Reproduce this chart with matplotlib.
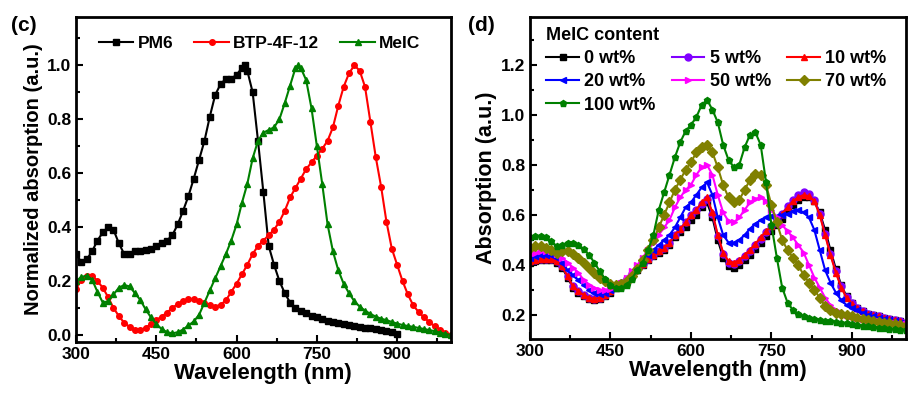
import matplotlib
matplotlib.use("Agg")
import matplotlib.pyplot as plt
from matplotlib.ticker import MultipleLocator, FormatStrFormatter

plt.rcParams["font.family"] = ["Liberation Sans", "DejaVu Sans"]
plt.rcParams["font.weight"] = "bold"

# ---- panel (c): normalized absorption of neat films ----
pm6_wl = [300, 310, 320, 330, 340, 350, 360, 370, 380, 390, 400, 410, 420, 430, 440,
          450, 460, 470, 480, 490, 500, 510, 520, 530, 540, 550, 560, 570, 580, 590,
          600, 610, 615, 620, 630, 640, 650, 660, 670, 680, 690, 700, 710, 720, 730,
          740, 750, 760, 770, 780, 790, 800, 810, 820, 830, 840, 850, 860, 870, 880,
          890, 900]
pm6_abs = [0.30, 0.27, 0.28, 0.31, 0.35, 0.38, 0.40, 0.39, 0.34, 0.30, 0.30, 0.31, 0.31,
           0.315, 0.32, 0.33, 0.34, 0.35, 0.37, 0.41, 0.46, 0.515, 0.58, 0.65, 0.72, 0.81,
           0.89, 0.93, 0.95, 0.95, 0.965, 0.99, 1.0, 0.98, 0.90, 0.72, 0.53, 0.33, 0.26,
           0.20, 0.155, 0.12, 0.10, 0.09, 0.08, 0.07, 0.065, 0.058, 0.052, 0.047, 0.043,
           0.04, 0.037, 0.034, 0.03, 0.027, 0.025, 0.022, 0.018, 0.015, 0.01, 0.005]

wl10 = list(range(300, 1001, 10))

btp_abs = [0.17, 0.205, 0.22, 0.22, 0.20, 0.175, 0.14, 0.10, 0.07, 0.045, 0.03, 0.02, 0.018,
           0.027, 0.04, 0.055, 0.068, 0.083, 0.10, 0.115, 0.125, 0.132, 0.132, 0.127, 0.12,
           0.11, 0.105, 0.112, 0.128, 0.16, 0.19, 0.225, 0.26, 0.30, 0.33, 0.35, 0.37, 0.39,
           0.42, 0.46, 0.51, 0.545, 0.58, 0.615, 0.64, 0.665, 0.69, 0.72, 0.77, 0.85, 0.92,
           0.97, 1.0, 0.98, 0.92, 0.79, 0.66, 0.55, 0.42, 0.32, 0.26, 0.20, 0.15, 0.11,
           0.085, 0.065, 0.048, 0.032, 0.02, 0.008, 0.0]

meic_wl = wl10[:42] + [715] + wl10[42:]
meic_abs = [0.20, 0.215, 0.22, 0.205, 0.16, 0.12, 0.125, 0.15, 0.175, 0.185, 0.18, 0.155,
            0.13, 0.095, 0.065, 0.04, 0.022, 0.01, 0.006, 0.01, 0.02, 0.035, 0.05, 0.075,
            0.12, 0.165, 0.21, 0.255, 0.30, 0.35, 0.41, 0.49, 0.56, 0.655, 0.72, 0.75, 0.76,
            0.77, 0.80, 0.86, 0.925, 0.99, 1.0, 0.99, 0.945, 0.84, 0.70, 0.56, 0.41, 0.31,
            0.24, 0.19, 0.155, 0.125, 0.105, 0.09, 0.078, 0.068, 0.06, 0.055, 0.048, 0.042,
            0.037, 0.033, 0.03, 0.026, 0.022, 0.018, 0.014, 0.009, 0.004, 0.0]

# ---- panel (d): blend films with different MeIC content ----
blend_labels = ["0 wt%", "5 wt%", "10 wt%", "20 wt%", "50 wt%", "70 wt%", "100 wt%"]
blend_abs = [
    # 0 wt%
    [0.41, 0.415, 0.42, 0.42, 0.42, 0.41, 0.39, 0.35, 0.31, 0.29, 0.275, 0.265, 0.26, 0.265,
     0.275, 0.29, 0.31, 0.325, 0.34, 0.36, 0.38, 0.40, 0.42, 0.435, 0.45, 0.46, 0.48, 0.51,
     0.53, 0.55, 0.58, 0.60, 0.63, 0.65, 0.59, 0.50, 0.43, 0.395, 0.39, 0.40, 0.42, 0.44,
     0.465, 0.49, 0.515, 0.535, 0.56, 0.585, 0.615, 0.64, 0.66, 0.67, 0.67, 0.655, 0.61,
     0.54, 0.46, 0.385, 0.32, 0.275, 0.25, 0.23, 0.215, 0.205, 0.20, 0.195, 0.19, 0.185,
     0.18, 0.175, 0.17],
    # 5 wt%
    [0.415, 0.42, 0.425, 0.425, 0.425, 0.415, 0.395, 0.355, 0.315, 0.295, 0.28, 0.27, 0.265,
     0.27, 0.28, 0.295, 0.315, 0.33, 0.345, 0.365, 0.385, 0.405, 0.425, 0.44, 0.455, 0.47,
     0.49, 0.52, 0.545, 0.57, 0.60, 0.62, 0.645, 0.665, 0.605, 0.515, 0.445, 0.41, 0.405,
     0.415, 0.435, 0.455, 0.48, 0.505, 0.53, 0.555, 0.58, 0.605, 0.635, 0.66, 0.68, 0.69,
     0.685, 0.66, 0.605, 0.525, 0.445, 0.375, 0.315, 0.272, 0.248, 0.23, 0.215, 0.205,
     0.20, 0.195, 0.19, 0.185, 0.18, 0.175, 0.17],
    # 10 wt%
    [0.415, 0.42, 0.425, 0.425, 0.425, 0.415, 0.395, 0.355, 0.315, 0.295, 0.28, 0.27, 0.265,
     0.27, 0.28, 0.295, 0.315, 0.33, 0.345, 0.365, 0.385, 0.405, 0.425, 0.44, 0.455, 0.47,
     0.49, 0.52, 0.545, 0.57, 0.60, 0.62, 0.65, 0.67, 0.61, 0.52, 0.45, 0.415, 0.41, 0.42,
     0.44, 0.46, 0.485, 0.51, 0.535, 0.555, 0.58, 0.605, 0.63, 0.655, 0.67, 0.68, 0.675,
     0.655, 0.60, 0.52, 0.44, 0.37, 0.31, 0.27, 0.245, 0.23, 0.215, 0.205, 0.20, 0.195,
     0.19, 0.185, 0.18, 0.175, 0.17],
    # 20 wt%
    [0.43, 0.435, 0.44, 0.44, 0.44, 0.43, 0.41, 0.38, 0.36, 0.34, 0.32, 0.30, 0.29, 0.285,
     0.29, 0.30, 0.315, 0.33, 0.35, 0.37, 0.39, 0.415, 0.44, 0.46, 0.48, 0.50, 0.52, 0.55,
     0.59, 0.63, 0.65, 0.68, 0.71, 0.73, 0.68, 0.59, 0.52, 0.49, 0.49, 0.50, 0.52, 0.545,
     0.565, 0.58, 0.59, 0.595, 0.595, 0.60, 0.605, 0.615, 0.62, 0.61, 0.59, 0.54, 0.46,
     0.38, 0.33, 0.29, 0.26, 0.24, 0.23, 0.22, 0.21, 0.20, 0.195, 0.19, 0.185, 0.18, 0.175,
     0.17, 0.165],
    # 50 wt%
    [0.445, 0.45, 0.455, 0.455, 0.455, 0.445, 0.43, 0.41, 0.39, 0.37, 0.34, 0.32, 0.31,
     0.30, 0.30, 0.305, 0.315, 0.33, 0.35, 0.375, 0.40, 0.43, 0.46, 0.49, 0.52, 0.55, 0.58,
     0.63, 0.67, 0.70, 0.72, 0.76, 0.79, 0.80, 0.76, 0.68, 0.61, 0.575, 0.57, 0.59, 0.62,
     0.65, 0.665, 0.67, 0.655, 0.62, 0.59, 0.56, 0.535, 0.51, 0.48, 0.45, 0.40, 0.35, 0.31,
     0.27, 0.24, 0.22, 0.21, 0.20, 0.195, 0.19, 0.185, 0.18, 0.178, 0.175, 0.172, 0.17,
     0.168, 0.165, 0.163],
    # 70 wt%
    [0.47, 0.475, 0.475, 0.47, 0.46, 0.45, 0.455, 0.455, 0.445, 0.43, 0.41, 0.39, 0.37,
     0.35, 0.335, 0.325, 0.32, 0.325, 0.335, 0.355, 0.385, 0.42, 0.46, 0.50, 0.55, 0.60,
     0.65, 0.70, 0.74, 0.78, 0.81, 0.85, 0.87, 0.88, 0.85, 0.79, 0.72, 0.67, 0.65, 0.66,
     0.70, 0.74, 0.765, 0.76, 0.72, 0.64, 0.57, 0.50, 0.46, 0.43, 0.40, 0.36, 0.33, 0.30,
     0.27, 0.235, 0.22, 0.21, 0.205, 0.20, 0.195, 0.19, 0.185, 0.18, 0.177, 0.173, 0.17,
     0.167, 0.163, 0.16, 0.158],
    # 100 wt%
    [0.51, 0.515, 0.515, 0.51, 0.495, 0.475, 0.48, 0.49, 0.49, 0.48, 0.465, 0.44, 0.41,
     0.375, 0.345, 0.32, 0.31, 0.31, 0.32, 0.345, 0.38, 0.41, 0.46, 0.52, 0.62, 0.69, 0.76,
     0.83, 0.89, 0.935, 0.96, 0.99, 1.04, 1.06, 1.02, 0.97, 0.88, 0.82, 0.79, 0.80, 0.87,
     0.92, 0.93, 0.88, 0.73, 0.56, 0.43, 0.31, 0.25, 0.22, 0.205, 0.195, 0.188, 0.183, 0.18,
     0.177, 0.175, 0.172, 0.17, 0.167, 0.164, 0.16, 0.157, 0.155, 0.153, 0.15, 0.148,
     0.146, 0.144, 0.142, 0.14],
]
blend_colors = ["black", "#8000ff", "red", "blue", "#ff00ff", "#808000", "#008000"]
blend_markers = ["s", "o", "^", "<", ">", "D", "p"]

fig = plt.figure(figsize=(9.16, 3.99), dpi=100)
ax1 = fig.add_axes([0.083, 0.143, 0.409, 0.815])
ax2 = fig.add_axes([0.5786, 0.150, 0.410, 0.807])

ax1.plot(pm6_wl, pm6_abs, "-s", color="black", ms=4, lw=1.5, label="PM6")
ax1.plot(wl10, btp_abs, "-o", color="red", ms=4, lw=1.5, label="BTP-4F-12")
ax1.plot(meic_wl, meic_abs, "-^", color="#008000", ms=5, lw=1.5, label="MeIC")
ax1.set_xlim(300, 1000)
ax1.set_ylim(-0.026, 1.18)
ax1.yaxis.set_major_locator(MultipleLocator(0.2))
ax1.yaxis.set_minor_locator(MultipleLocator(0.1))
ax1.yaxis.set_major_formatter(FormatStrFormatter("%.1f"))
ax1.set_ylabel("Normalized absorption (a.u.)", fontsize=14.5, fontweight="bold", labelpad=3)
ax1.legend(loc="upper center", ncol=3, frameon=False, fontsize=12.5, handlelength=2.0,
           handletextpad=0.25, columnspacing=1.2, numpoints=1, bbox_to_anchor=(0.49, 0.99))

lines = []
for lab, ys, c, m in zip(blend_labels, blend_abs, blend_colors, blend_markers):
    ln, = ax2.plot(wl10, ys, "-" + m, color=c, ms=5, lw=1.5, label=lab)
    lines.append(ln)
ax2.set_xlim(300, 1000)
ax2.set_ylim(0.104, 1.39)
ax2.yaxis.set_major_locator(MultipleLocator(0.2))
ax2.yaxis.set_minor_locator(MultipleLocator(0.1))
ax2.set_ylabel("Absorption (a.u.)", fontsize=15.5, fontweight="bold", labelpad=3)
# legend is filled row by row in the reference: reorder for column-major filling
order = [0, 3, 6, 1, 4, 2, 5]
ax2.legend([lines[i] for i in order], [blend_labels[i] for i in order],
           loc="upper left", ncol=3, frameon=False, fontsize=13, handlelength=1.8,
           handletextpad=0.3, columnspacing=0.9, numpoints=1, labelspacing=0.35,
           title="MeIC content", title_fontproperties={"weight": "bold", "size": 13},
           alignment="left", bbox_to_anchor=(0.01, 1.01), borderaxespad=0.3)

for ax in (ax1, ax2):
    ax.set_xlabel("Wavelength (nm)", fontsize=16, fontweight="bold", labelpad=1)
    ax.xaxis.set_major_locator(MultipleLocator(150))
    ax.xaxis.set_minor_locator(MultipleLocator(75))
    ax.tick_params(which="both", direction="in", top=False, right=False, width=1.5,
                   labelsize=12.5)
    ax.tick_params(which="major", length=5)
    ax.tick_params(which="minor", length=3)
    for s in ax.spines.values():
        s.set_linewidth(2)
    for t in ax.get_xticklabels() + ax.get_yticklabels():
        t.set_fontweight("bold")

fig.text(0.012, 0.935, "(c)", fontsize=15, fontweight="bold", ha="left", va="center")
fig.text(0.511, 0.935, "(d)", fontsize=15, fontweight="bold", ha="left", va="center")

fig.savefig("out.png", dpi=100)
